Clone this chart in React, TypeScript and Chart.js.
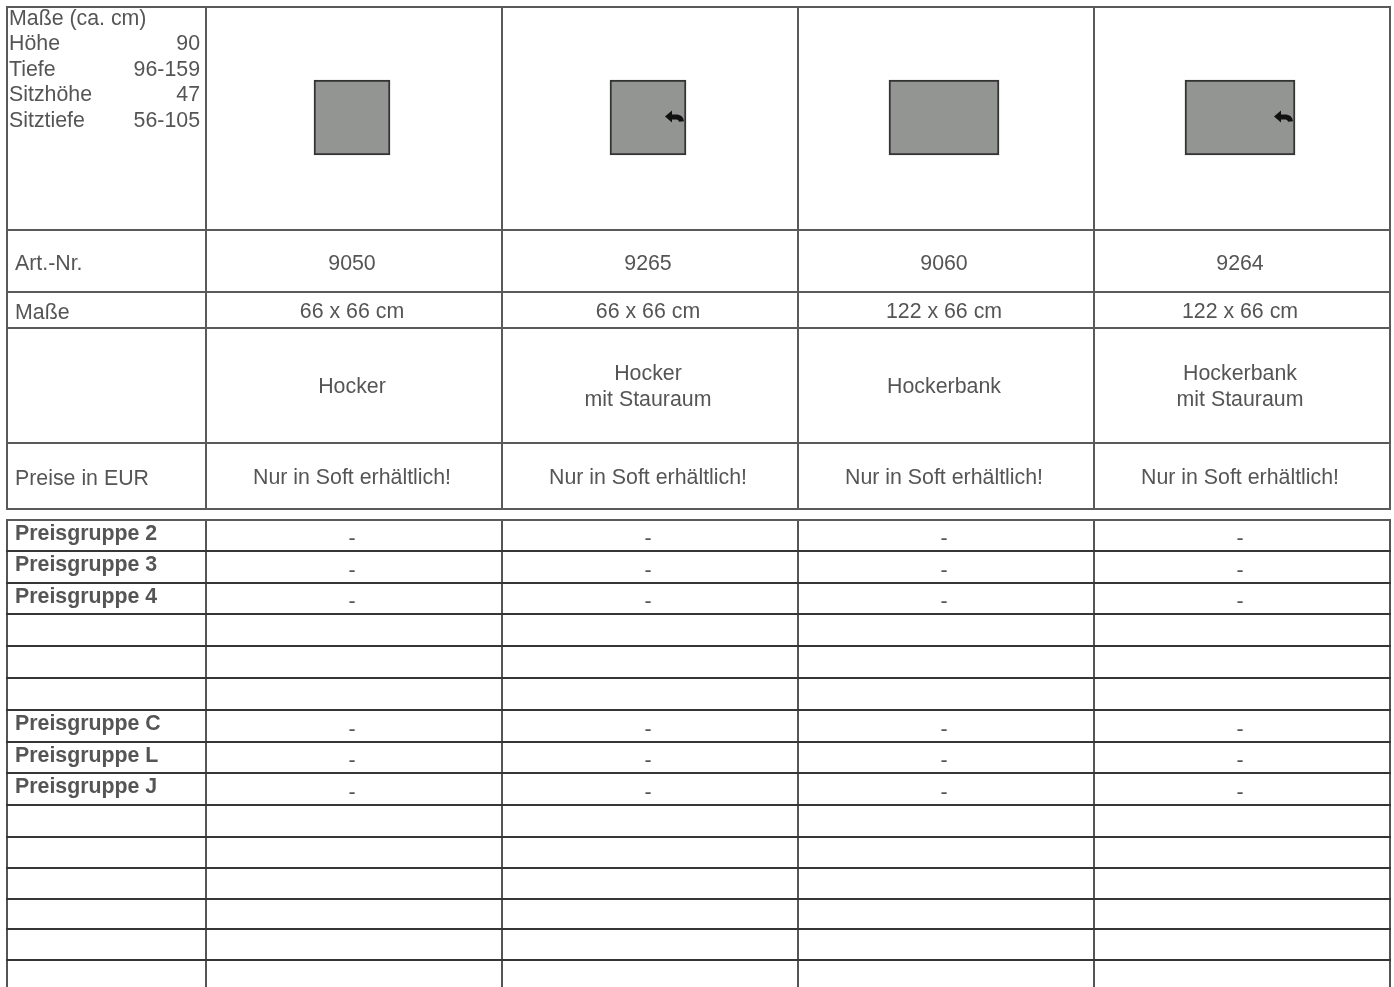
import React, { useEffect, useRef } from 'react';
import { Chart, registerables } from 'chart.js';

Chart.register(...registerables);

// ---------- data ----------
const measureTitle = 'Maße (ca. cm)';
const measureLabels = ['Höhe', 'Tiefe', 'Sitzhöhe', 'Sitztiefe'];
const measureValues = ['90', '96-159', '47', '56-105'];

const rowHeaders = ['Art.-Nr.', 'Maße', '', 'Preise in EUR'];
const articleNumbers = ['9050', '9265', '9060', '9264'];
const dimensions = ['66 x 66 cm', '66 x 66 cm', '122 x 66 cm', '122 x 66 cm'];
const productNames = [['Hocker'], ['Hocker', 'mit Stauraum'], ['Hockerbank'], ['Hockerbank', 'mit Stauraum']];
const priceNotes = ['Nur in Soft erhältlich!', 'Nur in Soft erhältlich!', 'Nur in Soft erhältlich!', 'Nur in Soft erhältlich!'];

const footprintWidth = [66, 66, 122, 122];
const footprintDepth = [66, 66, 66, 66];
const withStorage = [false, true, false, true];

const priceGroups = [
  'Preisgruppe 2', 'Preisgruppe 3', 'Preisgruppe 4', '', '', '',
  'Preisgruppe C', 'Preisgruppe L', 'Preisgruppe J', '', '', '', '', '', '',
];
const prices = [
  ['-', '-', '-', '-'],
  ['-', '-', '-', '-'],
  ['-', '-', '-', '-'],
  ['', '', '', ''],
  ['', '', '', ''],
  ['', '', '', ''],
  ['-', '-', '-', '-'],
  ['-', '-', '-', '-'],
  ['-', '-', '-', '-'],
  ['', '', '', ''],
  ['', '', '', ''],
  ['', '', '', ''],
  ['', '', '', ''],
  ['', '', '', ''],
  ['', '', '', ''],
];

// ---------- layout ----------
const W = 1394;
const H = 987;
const TABLE_LEFT = 7;
const COL_SHIFT = 2; // grid lines sit slightly right of the cell content
const FIRST_COL_RIGHT = 206 - COL_SHIFT;
const TABLE_RIGHT = 1390 - COL_SHIFT;
const TOP_ROWS = [7, 230, 292, 328, 443, 509];
const BOTTOM_ROWS = [520, 551, 583, 614, 646, 678, 710, 742, 773, 805, 837, 868, 899, 929, 960, 992];
const ICON_TOP = 80;
const ICON_PX_PER_CM = 75 / 66;
const ICON_THICKNESS: Record<number, number> = { 66: 76, 122: 110 };
const FONT = '"Liberation Sans", Arial, Helvetica, sans-serif';
const TEXT = '#555555';
const FS = 21.33;

const tablePlugin = {
  id: 'tablePlugin',
  afterDatasetsDraw(chart: any) {
    const ctx = chart.ctx as CanvasRenderingContext2D;
    chart.data.datasets.forEach((ds: any, di: number) => {
      const meta = chart.getDatasetMeta(di);
      meta.data.forEach((el: any, i: number) => {
        if (!withStorage[i] || ds.data[i] == null) return;
        const props = el.getProps(['x', 'y', 'base', 'width'], true);
        const right = props.x + props.width / 2;
        const cy = (props.y + props.base) / 2;
        const tip = right - 21;
        ctx.save();
        ctx.fillStyle = '#111';
        ctx.strokeStyle = '#111';
        ctx.beginPath();
        ctx.moveTo(tip, cy - 1);
        ctx.lineTo(tip + 7, cy - 7);
        ctx.lineTo(tip + 7, cy + 5);
        ctx.closePath();
        ctx.fill();
        ctx.lineWidth = 5;
        ctx.beginPath();
        ctx.moveTo(tip + 6, cy - 0.5);
        ctx.lineTo(tip + 12, cy - 0.5);
        ctx.quadraticCurveTo(tip + 16, cy, tip + 16.5, cy + 4);
        ctx.stroke();
        ctx.restore();
      });
    });
  },
  afterDraw(chart: any) {
    const ctx = chart.ctx as CanvasRenderingContext2D;
    const x = chart.scales.x;
    const y = chart.scales.y;
    const n = articleNumbers.length;
    const colBounds: number[] = [TABLE_LEFT];
    for (let k = 0; k <= n; k++) {
      let b;
      if (k === 0) b = x.left;
      else if (k === n) b = x.right;
      else b = (x.getPixelForValue(k - 1) + x.getPixelForValue(k)) / 2;
      colBounds.push(b + COL_SHIFT);
    }
    const colCenter = (i: number) => x.getPixelForValue(i);
    const yp = (v: number) => y.getPixelForValue(v);
    const left = TABLE_LEFT - 1;
    const right = colBounds[colBounds.length - 1] + 1;

    ctx.save();
    ctx.lineWidth = 2;
    ctx.strokeStyle = '#5a5a5a';
    TOP_ROWS.forEach((r) => {
      ctx.beginPath();
      ctx.moveTo(left, yp(r));
      ctx.lineTo(right, yp(r));
      ctx.stroke();
    });
    colBounds.forEach((c) => {
      ctx.beginPath();
      ctx.moveTo(c, yp(TOP_ROWS[0]));
      ctx.lineTo(c, yp(TOP_ROWS[TOP_ROWS.length - 1]));
      ctx.stroke();
    });
    ctx.strokeStyle = '#555555';
    colBounds.forEach((c) => {
      ctx.beginPath();
      ctx.moveTo(c, yp(BOTTOM_ROWS[0]));
      ctx.lineTo(c, yp(BOTTOM_ROWS[BOTTOM_ROWS.length - 1]));
      ctx.stroke();
    });
    BOTTOM_ROWS.forEach((r, i) => {
      ctx.strokeStyle = i === 0 ? '#5a5a5a' : '#363636';
      ctx.beginPath();
      ctx.moveTo(left, yp(r));
      ctx.lineTo(right, yp(r));
      ctx.stroke();
    });

    ctx.fillStyle = TEXT;
    ctx.textBaseline = 'middle';
    ctx.font = `${FS}px ${FONT}`;
    ctx.textAlign = 'left';
    ctx.fillText(measureTitle, 9, yp(19));
    measureLabels.forEach((l, i) => {
      const ty = yp(44 + i * 25.7);
      ctx.textAlign = 'left';
      ctx.fillText(l, 9, ty);
      ctx.textAlign = 'right';
      ctx.fillText(measureValues[i], 200, ty);
    });

    const rowCenter = (rows: number[], i: number) => (rows[i] + rows[i + 1]) / 2;
    rowHeaders.forEach((h, i) => {
      ctx.textAlign = 'left';
      ctx.fillText(h, 15, yp(rowCenter(TOP_ROWS, i + 1) + 3));
    });
    ctx.textAlign = 'center';
    for (let i = 0; i < n; i++) {
      const cx = colCenter(i);
      ctx.fillText(articleNumbers[i], cx, yp(rowCenter(TOP_ROWS, 1) + 3));
      ctx.fillText(dimensions[i], cx, yp(rowCenter(TOP_ROWS, 2) + 2.5));
      const lines = productNames[i];
      const c3 = rowCenter(TOP_ROWS, 3) + 2;
      lines.forEach((ln, k) => {
        const off = (k - (lines.length - 1) / 2) * 26;
        ctx.fillText(ln, cx, yp(c3 + off));
      });
      ctx.fillText(priceNotes[i], cx, yp(rowCenter(TOP_ROWS, 4) + 2.5));
    }

    priceGroups.forEach((g, r) => {
      const cyRow = rowCenter(BOTTOM_ROWS, r);
      if (g) {
        ctx.font = `bold ${FS}px ${FONT}`;
        ctx.textAlign = 'left';
        ctx.fillText(g, 15, yp(cyRow - 1.5));
      }
      ctx.font = `${FS}px ${FONT}`;
      ctx.textAlign = 'center';
      prices[r].forEach((p, i) => {
        if (p) ctx.fillText(p, colCenter(i), yp(cyRow + 4));
      });
    });
    ctx.restore();
  },
};

export default function App() {
  const ref = useRef<HTMLCanvasElement | null>(null);
  useEffect(() => {
    if (!ref.current) return;
    const iconData = (w: number) =>
      footprintWidth.map((fw, i) => (fw === w ? [0, footprintDepth[i]] : null));
    const iconMin = -ICON_TOP / ICON_PX_PER_CM;
    const iconMax = iconMin + H / ICON_PX_PER_CM;
    const chart = new Chart(ref.current, {
      type: 'bar',
      data: {
        labels: articleNumbers,
        datasets: [66, 122].map((w) => ({
          label: `${w}`,
          data: iconData(w) as any,
          yAxisID: 'yIcon',
          backgroundColor: '#939593',
          borderColor: '#333333',
          borderWidth: 2,
          borderSkipped: false,
          barThickness: ICON_THICKNESS[w],
          grouped: false,
        })),
      },
      options: {
        responsive: false,
        animation: false,
        events: [],
        layout: { padding: { left: FIRST_COL_RIGHT, right: W - TABLE_RIGHT, top: 0, bottom: 0 } },
        plugins: { legend: { display: false }, tooltip: { enabled: false }, title: { display: false } },
        scales: {
          x: { type: 'category', display: false, offset: true },
          y: { type: 'linear', display: false, min: 0, max: H, reverse: true },
          yIcon: { type: 'linear', display: false, min: iconMin, max: iconMax, reverse: true },
        },
      },
      plugins: [tablePlugin],
    });
    return () => chart.destroy();
  }, []);
  return (
    <div style={{ position: 'fixed', left: 0, top: 0, width: W, height: H, background: '#fff' }}>
      <canvas ref={ref} width={W} height={H} style={{ display: 'block' }} />
    </div>
  );
}
